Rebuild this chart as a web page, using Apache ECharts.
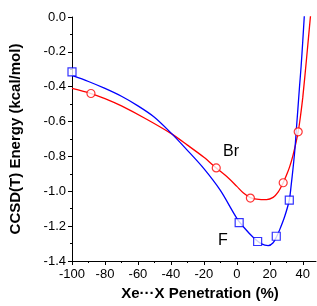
<!DOCTYPE html>
<html>
<head>
<meta charset="utf-8">
<script src="https://cdn.jsdelivr.net/npm/echarts@6/dist/echarts.min.js"></script>
<style>
html, body { margin: 0; padding: 0; background: #fff; }
#chart { width: 317px; height: 306px; }
</style>
</head>
<body>
<div id="chart"></div>
<script>
// computed points (markers)
var fPoints = [[-100, -0.315], [1.4, -1.18], [12.6, -1.288], [23.9, -1.258], [31.8, -1.051]];
var brPoints = [[-88.5, -0.439], [-12.5, -0.866], [8.2, -1.039], [28.1, -0.951], [37.2, -0.659]];

// fitted curves
var fFit = [[-100, -0.335], [-90, -0.37], [-80, -0.41], [-70, -0.455], [-60, -0.51], [-50, -0.575],
    [-40, -0.665], [-30, -0.765], [-20, -0.87], [-10, -0.995], [0, -1.155], [5, -1.215], [10, -1.265],
    [15, -1.302], [19, -1.312], [22, -1.295], [24, -1.262], [26, -1.22], [29, -1.145], [31.8, -1.05],
    [33, -0.96], [34, -0.875], [35.2, -0.76], [36, -0.655], [37, -0.53], [38, -0.4], [39, -0.28],
    [40, -0.135], [41, 0.02]];
var brFit = [[-100, -0.41], [-88.5, -0.439], [-80, -0.468], [-70, -0.51], [-55, -0.585], [-40, -0.668],
    [-30, -0.735], [-20, -0.805], [-12.5, -0.866], [-5, -0.925], [0, -0.972], [4, -1.01], [8.2, -1.036],
    [12, -1.045], [18, -1.048], [22, -1.035], [25, -1.005], [28.1, -0.951], [30, -0.91], [32, -0.86],
    [34, -0.795], [36, -0.715], [37.2, -0.659], [38.5, -0.575], [40, -0.46], [42.2, -0.245],
    [44.6, 0], [45.2, 0.06]];

var xMajor = [-100, -80, -60, -40, -20, 0, 20, 40];
var xMinor = [-90, -70, -50, -30, -10, 10, 30];

var chart = echarts.init(document.getElementById('chart'));
var font = 'Liberation Sans, Arial, sans-serif';

var option = {
    animation: false,
    grid: { left: 71, right: 1, top: 17, bottom: 42 },
    xAxis: [{
        type: 'value',
        min: -100,
        max: 48,
        interval: 20,
        name: 'Xe···X Penetration (%)',
        nameLocation: 'middle',
        nameGap: 25,
        nameTextStyle: { fontFamily: font, fontSize: 15, fontWeight: 'bold', color: '#000', padding: [0, 0, 0, 12] },
        axisLine: { onZero: false, lineStyle: { color: '#000', width: 1 } },
        axisTick: { show: true, length: 4, customValues: xMajor, lineStyle: { color: '#000' } },
        axisLabel: { customValues: xMajor, fontFamily: font, fontSize: 13, color: '#000', margin: 7 },
        splitLine: { show: false }
    }, {
        type: 'value',
        min: -100,
        max: 48,
        position: 'bottom',
        axisLine: { show: false, onZero: false },
        axisTick: { show: true, length: 2, customValues: xMinor, lineStyle: { color: '#000' } },
        axisLabel: { show: false },
        splitLine: { show: false }
    }],
    yAxis: {
        type: 'value',
        min: -1.4,
        max: 0,
        interval: 0.2,
        name: 'CCSD(T) Energy (kcal/mol)',
        nameLocation: 'middle',
        nameGap: 49,
        nameTextStyle: { fontFamily: font, fontSize: 15, fontWeight: 'bold', color: '#000' },
        axisLine: { show: true, onZero: false, lineStyle: { color: '#000', width: 1 } },
        axisTick: { show: true, length: 4, lineStyle: { color: '#000' } },
        minorTick: { show: true, splitNumber: 2, length: 2, lineStyle: { color: '#000' } },
        axisLabel: {
            fontFamily: font, fontSize: 13, color: '#000', margin: 6,
            formatter: function (v) { return v.toFixed(1); }
        },
        splitLine: { show: false }
    },
    graphic: [
        { type: 'text', left: 223, top: 144, style: { text: 'Br', fontFamily: font, fontSize: 16, fill: '#000' } },
        { type: 'text', left: 218, top: 233, style: { text: 'F', fontFamily: font, fontSize: 16, fill: '#000' } }
    ],
    series: [{
        type: 'line',
        data: brFit,
        smooth: 0.3,
        showSymbol: false,
        lineStyle: { color: '#ff0000', width: 1.3 },
        clip: true
    }, {
        type: 'line',
        data: fFit,
        smooth: 0.3,
        showSymbol: false,
        lineStyle: { color: '#0000ff', width: 1.3 },
        clip: true
    }, {
        type: 'scatter',
        data: brPoints,
        symbol: 'circle',
        symbolSize: 8,
        itemStyle: { color: '#fff', borderColor: '#ff0000', borderWidth: 1.2 },
        z: 5
    }, {
        type: 'scatter',
        data: fPoints,
        symbol: 'rect',
        symbolSize: 8,
        itemStyle: { color: '#fff', borderColor: '#0000ff', borderWidth: 1.2 },
        z: 5
    }]
};

chart.setOption(option);
</script>
</body>
</html>
